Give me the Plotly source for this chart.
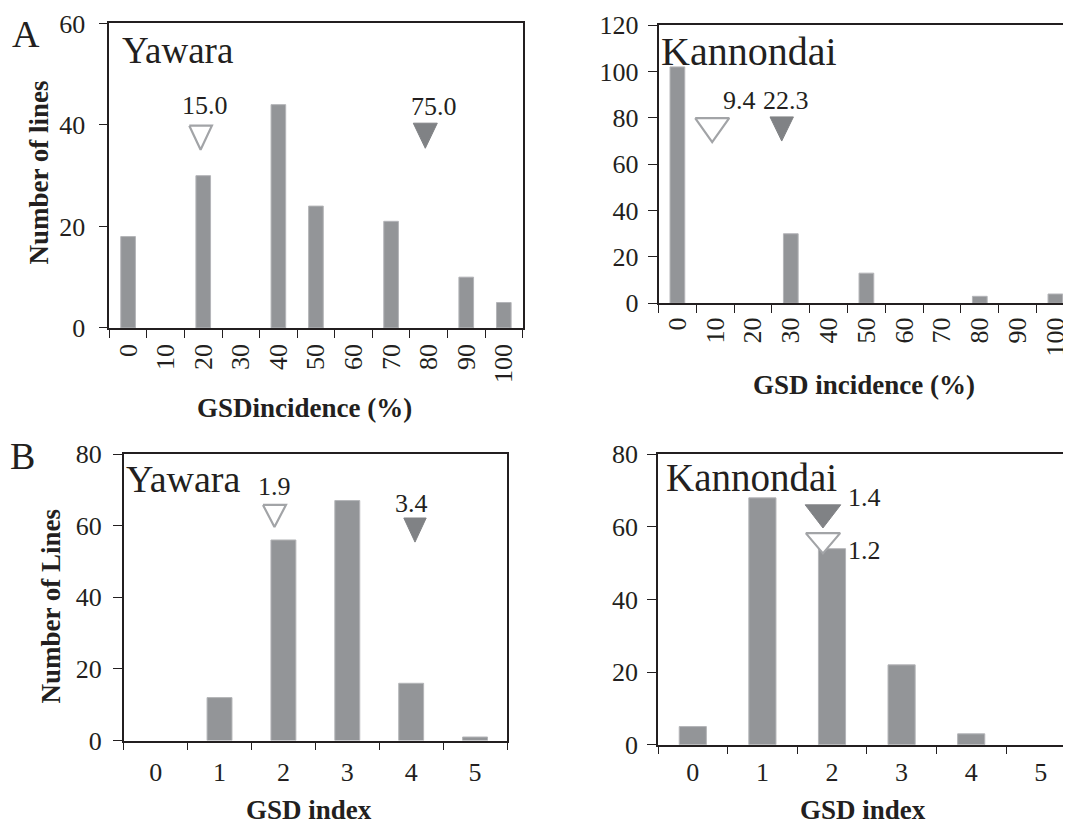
import plotly.graph_objects as go

# ---------------- data ----------------
incidence_cats = ["0", "10", "20", "30", "40", "50", "60", "70", "80", "90", "100"]
index_cats = ["0", "1", "2", "3", "4", "5"]

yawara_incidence = [18, 0, 30, 0, 44, 24, 0, 21, 0, 10, 5]
kannondai_incidence = [102, 0, 0, 30, 0, 13, 0, 0, 3, 0, 4]
yawara_index = [0, 12, 56, 67, 16, 1]
kannondai_index = [5, 68, 54, 22, 3, 0]

# mean markers: value label, x position (category units), y of triangle tip
yawara_inc_means = [15.0, 75.0]
yawara_inc_mean_x = [1.93, 7.91]
yawara_inc_mean_tip = [35.1, 35.4]

kannondai_inc_means = [9.4, 22.3]
kannondai_inc_mean_x = [0.92, 2.76]
kannondai_inc_mean_tip = [69.5, 70.0]

yawara_idx_means = [1.9, 3.4]
yawara_idx_mean_x = [1.86, 4.06]
yawara_idx_mean_tip = [59.6, 55.4]

kannondai_idx_means = [1.2, 1.4]
kannondai_idx_mean_x = [1.87, 1.87]
kannondai_idx_mean_tip = [52.7, 59.7]

# ---------------- style ----------------
W, H = 1071, 827
FONT = "Liberation Serif"
TXT = "#231f20"
BAR = "#939598"
BAR_EDGE = "#b4b5b8"
FILLED = "#808285"
OPEN = "#a2a4a7"


def px(x):
    return x / W


def py(y):
    return 1 - y / H


panels = {
    # key: (x domain px, y domain px (top, bottom), x range, y range)
    "1": ((101.3, 514.6), (1.5, 317.0), (-0.5, 10.5), (0, 60)),
    "2": ((650.5, 1071.0), (3.3, 291.5), (-0.5, -0.5 + (1071.0 - 650.5) / 37.8), (0, 120)),
    "3": ((115.7, 499.0), (447.7, 744.7), (-0.5, 5.5), (0, 80)),
    "4": ((650.0, 1071.0), (448.0, 749.0), (-0.5, -0.5 + (1071.0 - 650.0) / 69.6), (0, 80)),
}


def scales(key):
    (x0, x1), (yt, yb), xr, yr = panels[key]
    return (x1 - x0) / (xr[1] - xr[0]), (yb - yt) / (yr[1] - yr[0])


def sfx(key):
    return "" if key == "1" else key


fig = go.Figure()


def add_bars(key, cats, vals):
    fig.add_trace(go.Bar(
        x=list(range(len(cats))), y=vals, width=0.39,
        marker=dict(color=BAR,
                    line=dict(color=BAR_EDGE, width=[1 if v > 0 else 0 for v in vals])),
        xaxis="x" + sfx(key), yaxis="y" + sfx(key),
        showlegend=False, hoverinfo="skip"))


def add_triangle(key, xc, tip, half_w_px, h_px, filled):
    sx, sy = scales(key)
    hw = half_w_px / sx
    hh = h_px / sy
    xs = [xc - hw, xc + hw, xc, xc - hw]
    ys = [tip + hh, tip + hh, tip, tip + hh]
    fig.add_trace(go.Scatter(
        x=xs, y=ys, mode="lines", fill="toself",
        fillcolor=FILLED if filled else "white",
        line=dict(color=FILLED if filled else OPEN, width=1 if filled else 2.2),
        xaxis="x" + sfx(key), yaxis="y" + sfx(key),
        showlegend=False, hoverinfo="skip"))


add_bars("1", incidence_cats, yawara_incidence)
add_bars("2", incidence_cats, kannondai_incidence)
add_bars("3", index_cats, yawara_index)
add_bars("4", index_cats, kannondai_index)

add_triangle("1", yawara_inc_mean_x[0], yawara_inc_mean_tip[0], 11.3, 25, False)
add_triangle("1", yawara_inc_mean_x[1], yawara_inc_mean_tip[1], 12.0, 26, True)
add_triangle("2", kannondai_inc_mean_x[0], kannondai_inc_mean_tip[0], 17.0, 25, False)
add_triangle("2", kannondai_inc_mean_x[1], kannondai_inc_mean_tip[1], 11.7, 25, True)
add_triangle("3", yawara_idx_mean_x[0], yawara_idx_mean_tip[0], 11.5, 23, False)
add_triangle("3", yawara_idx_mean_x[1], yawara_idx_mean_tip[1], 11.2, 25, True)
add_triangle("4", kannondai_idx_mean_x[1], kannondai_idx_mean_tip[1], 17.8, 24, True)
add_triangle("4", kannondai_idx_mean_x[0], kannondai_idx_mean_tip[0], 17.2, 21, False)

tickfont = dict(family=FONT, size=26, color=TXT)


def xaxis_cfg(key, cats, angle, major_len, standoff):
    (x0, x1), (yt, yb), xr, yr = panels[key]
    return dict(
        domain=[px(x0), px(x1)], range=list(xr), anchor="y" + sfx(key),
        tickmode="array", tickvals=list(range(len(cats))), ticktext=cats,
        tickangle=angle, ticks="outside", ticklen=major_len, tickcolor="rgba(0,0,0,0)",
        ticklabelstandoff=standoff, ticklabeloverflow="allow",
        minor=dict(tickmode="array", tickvals=[i - 0.5 for i in range(len(cats) + 1)],
                   ticks="outside", ticklen=8, tickcolor=TXT, tickwidth=1.3),
        showline=True, linecolor=TXT, linewidth=1.5, mirror=True,
        showgrid=False, zeroline=False, tickfont=tickfont, fixedrange=True)


def yaxis_cfg(key, dtick, mirror, standoff):
    (x0, x1), (yt, yb), xr, yr = panels[key]
    return dict(
        domain=[py(yb), py(yt)], range=list(yr), anchor="x" + sfx(key),
        tickmode="linear", tick0=0, dtick=dtick, ticks="outside", ticklen=9,
        tickcolor=TXT, tickwidth=1.3, ticklabelstandoff=standoff,
        ticklabeloverflow="allow",
        showline=True, linecolor=TXT, linewidth=1.5, mirror=mirror,
        showgrid=False, zeroline=False, tickfont=tickfont, fixedrange=True)


fig.update_layout(
    width=W, height=H, margin=dict(l=0, r=0, t=0, b=0),
    paper_bgcolor="white", plot_bgcolor="white", showlegend=False,
    font=dict(family=FONT, color=TXT),
    xaxis=xaxis_cfg("1", incidence_cats, -90, 2, 2),
    yaxis=yaxis_cfg("1", 20, True, 8),
    xaxis2=xaxis_cfg("2", incidence_cats, -90, 1, 1),
    yaxis2=yaxis_cfg("2", 20, False, 4),
    xaxis3=xaxis_cfg("3", index_cats, 0, 2, 5),
    yaxis3=yaxis_cfg("3", 20, True, 6),
    xaxis4=xaxis_cfg("4", index_cats, 0, 1, 2),
    yaxis4=yaxis_cfg("4", 20, False, 4),
)

ann = []


def data_text(key, x, y, text, size, xanchor="center"):
    ann.append(dict(x=x, y=y, xref="x" + sfx(key), yref="y" + sfx(key), text=text,
                    showarrow=False, xanchor=xanchor, yanchor="middle",
                    font=dict(family=FONT, size=size, color=TXT)))


def paper_text(x, y, text, size, bold=False, angle=0):
    ann.append(dict(x=px(x), y=py(y), xref="paper", yref="paper",
                    text="<b>%s</b>" % text if bold else text, showarrow=False,
                    xanchor="center", yanchor="middle", textangle=angle,
                    font=dict(family=FONT, size=size, color=TXT)))


# panel names
data_text("1", -0.22, 54.6, "Yawara", 37, "left")
data_text("2", -0.50, 108.5, "Kannondai", 40, "left")
data_text("3", -0.49, 73.0, "Yawara", 38, "left")
data_text("4", -0.42, 73.5, "Kannondai", 39, "left")

# mean labels
data_text("1", 2.05, 43.9, "%.1f" % yawara_inc_means[0], 26)
data_text("1", 8.13, 43.7, "%.1f" % yawara_inc_means[1], 26)
data_text("2", 1.63, 87.5, "%.1f" % kannondai_inc_means[0], 26)
data_text("2", 2.88, 87.5, "%.1f" % kannondai_inc_means[1], 26)
data_text("3", 1.86, 70.8, "%.1f" % yawara_idx_means[0], 26)
data_text("3", 4.0, 66.1, "%.1f" % yawara_idx_means[1], 26)
data_text("4", 2.2, 68.0, "%.1f" % kannondai_idx_means[1], 26, "left")
data_text("4", 2.2, 53.4, "%.1f" % kannondai_idx_means[0], 26, "left")

# panel letters
paper_text(17.7, 12.5, "A", 38)
paper_text(14, 450, "B", 38)

# axis titles
paper_text(31, 156, "Number of lines", 27, bold=True, angle=-90)
paper_text(42.8, 605, "Number of Lines", 27, bold=True, angle=-90)
paper_text(296.6, 400, "GSDincidence (%)", 27, bold=True)
paper_text(855.5, 376, "GSD incidence (%)", 27, bold=True)
paper_text(301, 817, "GSD index", 27, bold=True)
paper_text(854.7, 817, "GSD index", 27, bold=True)

fig.update_layout(annotations=ann)
fig.write_html("out.html")
